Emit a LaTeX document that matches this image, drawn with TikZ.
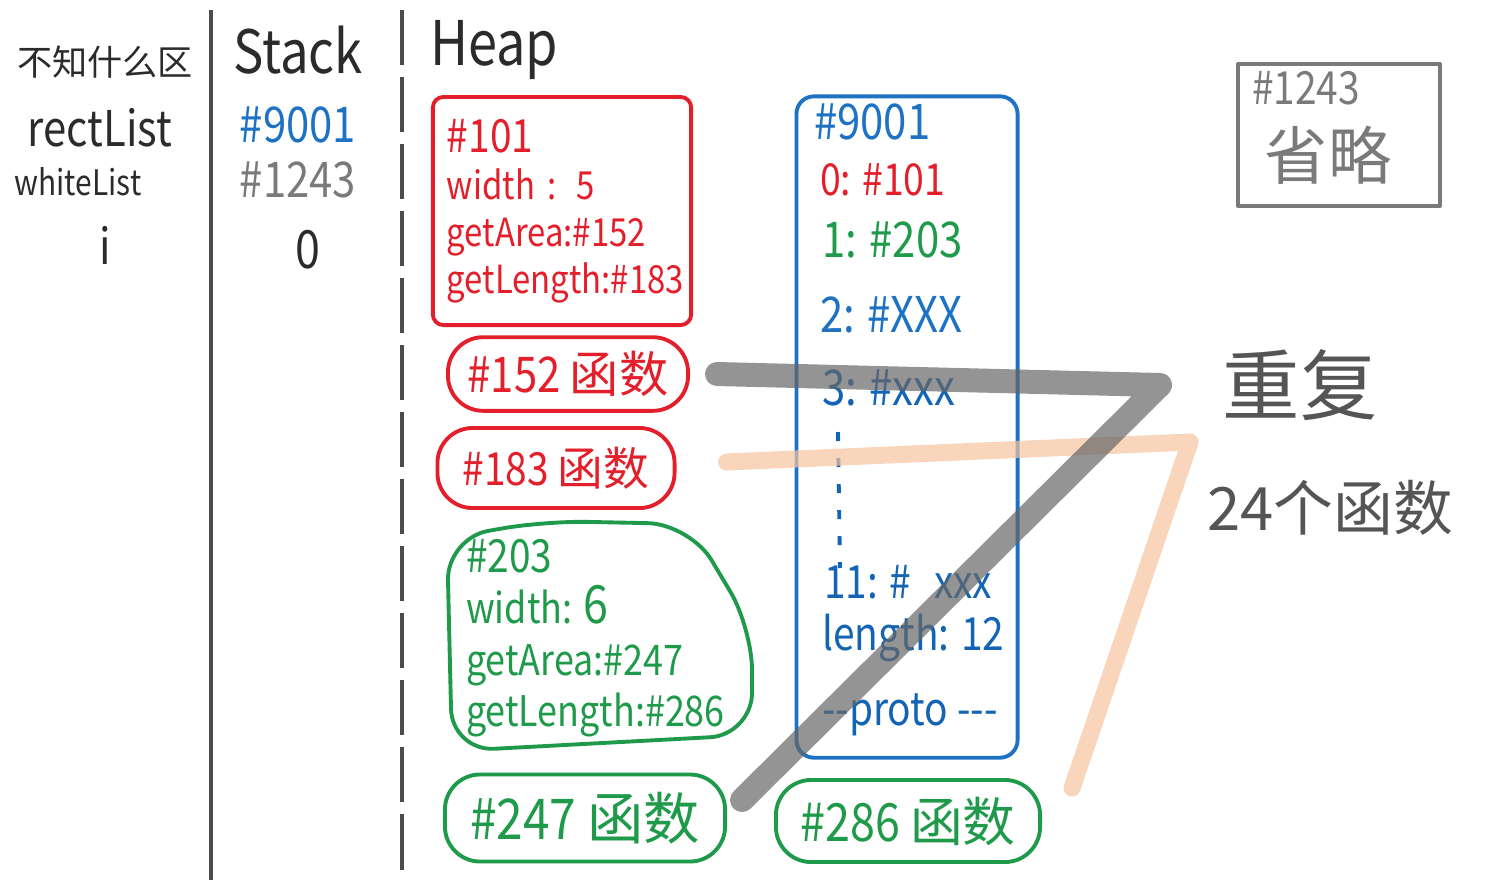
\documentclass[tikz,border=0pt]{standalone}
\usepackage{fontspec}
\setmainfont[FakeStretch=0.85]{Noto Sans CJK SC}
\newfontfamily\cjk{Noto Sans CJK SC}

\definecolor{penred}{HTML}{E21F2B}
\definecolor{pengreen}{HTML}{1F9A4A}
\definecolor{penblue}{HTML}{1E72C4}
\definecolor{inkblue}{HTML}{1364B4}
\definecolor{pengray}{HTML}{7A7A7A}
\definecolor{ink}{HTML}{2B2B2B}
\definecolor{peach}{HTML}{F6C3A0}

\newcommand{\fs}[1]{\fontsize{#1}{#1}\selectfont}

\tikzset{
  pen/.style={line width=1.1pt, line join=round},
  txt/.style={inner sep=1pt, text=ink},
  heapbox/.style={pen, draw=#1, text=#1, rounded corners=3pt, inner sep=4pt},
  fnbox/.style={heapbox=#1, rounded corners=10pt},
  entry/.style={anchor=west, inner sep=1pt},
  colline/.style={line width=1.3pt, draw=ink!85},
  graystroke/.style={line width=0.24cm, draw=black!60, opacity=0.7, line cap=round, line join=round},
  peachstroke/.style={line width=0.17cm, draw=peach, opacity=0.7, line cap=round, line join=round},
}

\begin{document}
\begin{tikzpicture}[x=0.01cm,y=-0.01cm]
\useasboundingbox (0,0) rectangle (1500,893);

% column rules
\draw[colline] (211,10) -- (211,880);
\draw[colline, dash pattern=on 0.55cm off 0.12cm] (402,10) -- (402,880);

% headers
\node[txt] (zone) at (105,62) {\cjk\fs{10}不知什么区};
\node[txt] (stack) at (298,50) {\fs{17}Stack};
\node[txt, anchor=west] (heap) at (426,50) {\fs{17.5}Heap};

% variables
\node[txt] (rect) at (100,128) {\fs{14}rectList};
\node[txt] (white) at (78,182) {\fs{10}whiteList};
\node[txt] (ivar) at (105,245) {\fs{14}i};

% stack values
\node[txt, text=penblue] (s9001) at (298,125) {\fs{14}\#9001};
\node[txt, text=pengray] (s1243) at (298,180) {\fs{14}\#1243};
\node[txt] (szero) at (308,250) {\fs{15}0};

% object #101
\node[heapbox=penred, minimum width=2.48cm, minimum height=2.28cm,
      text width=2.3cm, align=left, font=\fontsize{11}{13.4}\selectfont]
  (obj101) at (562,211)
  {{\fs{13}\#101}\\width : 5\\getArea:\#152\\getLength:\#183};

\node[fnbox=penred, minimum width=2.4cm, minimum height=0.68cm] (fn152) at (568,374)
  {\fs{14}\#152 {\cjk 函数}};
\node[fnbox=penred, minimum width=2.37cm, minimum height=0.8cm] (fn183) at (556,468)
  {\fs{13}\#183 {\cjk 函数}};

% object #203
\node[txt, text=pengreen, align=left, font=\fontsize{12}{14.6}\selectfont, anchor=north west]
  (obj203) at (462,535)
  {{\fs{13}\#203}\\width: {\fs{15}6}\\getArea:\#247\\getLength:\#286};
\draw[pen, draw=pengreen, rounded corners=12pt]
  (447,538) -- (545,521) -- (690,524) -- (752,628) -- (752,735) -- (452,751) -- cycle;

\node[fnbox=pengreen, minimum width=2.8cm, minimum height=0.87cm] (fn247) at (585,818)
  {\fs{16}\#247 {\cjk 函数}};
\node[fnbox=pengreen, minimum width=2.64cm, minimum height=0.82cm] (fn286) at (908,821)
  {\fs{15}\#286 {\cjk 函数}};

% array #9001
\node[heapbox=penblue, rounded corners=5pt, minimum width=2.21cm, minimum height=6.61cm]
  (arr9001) at (907,427) {};
\node[entry, text=penblue] (a9001) at (810,122) {\fs{14}\#9001};
\node[entry, text=penred] (a0) at (816,180) {\fs{12.5}0: \#101};
\node[entry, text=pengreen] (a1) at (818,240) {\fs{14}1: \#203};
\node[entry, text=penblue] (a2) at (816,315) {\fs{14}2: \#XXX};
\node[entry, text=inkblue] (a3) at (818,388) {\fs{14}3: \#xxx};
\draw[pen, draw=inkblue, dash pattern=on 0.09cm off 0.17cm] (838,432) -- (840,568);
\node[entry, text=inkblue] (a11) at (820,582) {\fs{13}11: \#\enspace xxx};
\node[entry, text=inkblue] (alen) at (818,638) {\fs{13}length: 12};
\node[entry, text=inkblue] (aproto) at (818,715) {\fs{13}-{}-proto -{}-{}-};

% object #1243
\node[pen, draw=pengray, minimum width=2.02cm, minimum height=1.42cm] (obj1243) at (1339,135) {};
\node[txt, text=pengray] (o1243) at (1306,88) {\fs{13}\#1243};
\node[txt, text=pengray] (omit) at (1328,155) {\cjk\fs{18}省略};

% note
\node[txt, text=ink!80] (dup) at (1300,385) {\cjk\fs{22}重复};
\node[txt, text=ink!80] (count) at (1330,508) {\cjk\fs{17}24个函数};

% strokes
\coordinate (gturn) at (1160,385);
\coordinate (pturn) at (1190,442);
\draw[peachstroke] ([xshift=0.5cm,yshift=0.06cm]fn183.east) -- (pturn)
  -- ([xshift=0.3cm,yshift=-0.1cm]fn286.north east);
\draw[graystroke] ([xshift=0.27cm]fn152.east) -- (gturn)
  -- ([xshift=0.15cm,yshift=0.18cm]fn247.east);

\end{tikzpicture}
\end{document}
